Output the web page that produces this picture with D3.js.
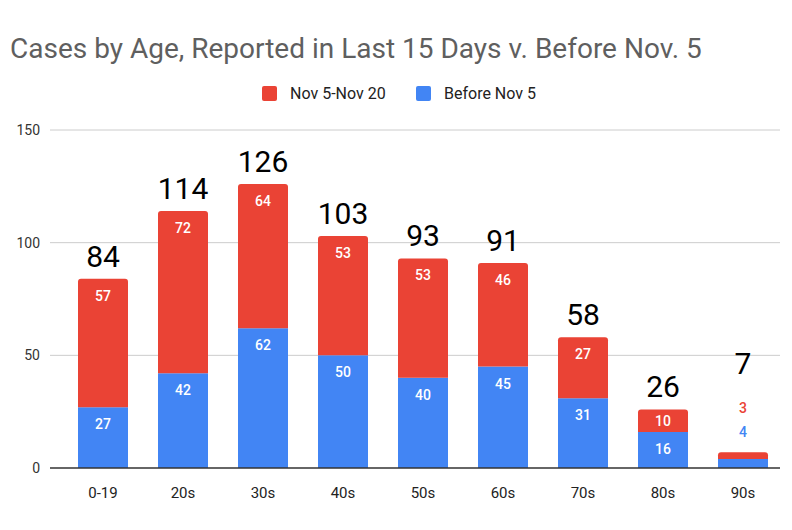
<!DOCTYPE html>
<html>
<head>
<meta charset="utf-8">
<script src="https://cdn.jsdelivr.net/npm/d3@7"></script>
<style>
  body { margin: 0; background: #fff; }
  text { font-family: Roboto, "Liberation Sans", Arial, sans-serif; }
</style>
</head>
<body>
<svg id="chart" width="792" height="530"></svg>
<script>
const ages = ["0-19", "20s", "30s", "40s", "50s", "60s", "70s", "80s", "90s"];
const recent = [57, 72, 64, 53, 53, 46, 27, 10, 3];   // Nov 5-Nov 20
const before = [27, 42, 62, 50, 40, 45, 31, 16, 4];   // Before Nov 5
const yTicks = [0, 50, 100, 150];

const RED = "#ea4335";
const BLUE = "#4285f4";

const svg = d3.select("#chart");
const width = +svg.attr("width");
const height = +svg.attr("height");

// title
svg.append("text")
  .attr("x", 10)
  .attr("y", 58)
  .attr("font-family", "'Liberation Sans', Arial, sans-serif")
  .attr("font-size", 28)
  .attr("fill", "#5f5f5f")
  .text("Cases by Age, Reported in Last 15 Days v. Before Nov. 5");

// legend
const legend = [
  { label: "Nov 5-Nov 20", color: RED, x: 262 },
  { label: "Before Nov 5", color: BLUE, x: 416 }
];
const lg = svg.append("g").attr("class", "legend");
legend.forEach(d => {
  lg.append("rect")
    .attr("x", d.x).attr("y", 86)
    .attr("width", 15).attr("height", 15)
    .attr("rx", 2)
    .attr("fill", d.color);
  lg.append("text")
    .attr("x", d.x + 28).attr("y", 99)
    .attr("font-family", "'Liberation Sans', Arial, sans-serif")
    .attr("font-size", 16)
    .attr("fill", "#222")
    .text(d.label);
});

// scales
const x = d3.scaleBand()
  .domain(ages)
  .range([63, 783])
  .paddingInner(0.375)
  .paddingOuter(0.1875);

const y = d3.scaleLinear()
  .domain([0, 150])
  .range([468, 130]);

// gridlines
svg.append("g")
  .selectAll("line")
  .data(yTicks.filter(t => t > 0))
  .enter()
  .append("line")
  .attr("x1", 50).attr("x2", 780)
  .attr("y1", d => y(d)).attr("y2", d => y(d))
  .attr("stroke", "#cccccc");

// y axis labels
const yAxis = svg.append("g")
  .attr("transform", "translate(40,0)")
  .call(d3.axisLeft(y).tickValues(yTicks).tickSize(0).tickPadding(0));
yAxis.select(".domain").remove();
yAxis.selectAll("text")
  .attr("font-family", "Roboto, Arial, sans-serif")
  .attr("font-size", 14)
  .attr("fill", "#333");

// stacked data
const rows = ages.map((a, i) => ({ age: a, before: before[i], recent: recent[i] }));
const stack = d3.stack().keys(["before", "recent"]);
const series = stack(rows);

function roundedTop(x0, y0, w, h, r) {
  r = Math.min(r, h, w / 2);
  return `M${x0},${y0 + h}V${y0 + r}Q${x0},${y0} ${x0 + r},${y0}` +
    `H${x0 + w - r}Q${x0 + w},${y0} ${x0 + w},${y0 + r}V${y0 + h}Z`;
}

const colors = { before: BLUE, recent: RED };

series.forEach(s => {
  svg.append("g")
    .selectAll("path")
    .data(s)
    .enter()
    .append("path")
    .attr("fill", colors[s.key])
    .attr("d", d => {
      const x0 = x(d.data.age);
      const y0 = y(d[1]);
      const h = y(d[0]) - y(d[1]);
      return s.key === "recent"
        ? roundedTop(x0, y0, x.bandwidth(), h, 3)
        : `M${x0},${y0}h${x.bandwidth()}v${h}h${-x.bandwidth()}Z`;
    });
});

// segment labels
series.forEach(s => {
  svg.append("g")
    .selectAll("text")
    .data(s)
    .enter()
    .append("text")
    .attr("x", d => x(d.data.age) + x.bandwidth() / 2)
    .attr("y", d => {
      const top = y(d[1]);
      const h = y(d[0]) - top;
      const total = d.data.before + d.data.recent;
      if (total < 15) {
        // too thin: stack the labels above the bar
        return y(total) - (s.key === "before" ? 15 : 39);
      }
      return top + Math.min(17, h / 2) + 5;
    })
    .attr("text-anchor", "middle")
    .attr("font-size", 14)
    .attr("font-weight", 500)
    .attr("fill", d => (d.data.before + d.data.recent < 15 ? colors[s.key] : "#fff"))
    .text(d => d[1] - d[0]);
});

// totals
svg.append("g")
  .selectAll("text")
  .data(rows)
  .enter()
  .append("text")
  .attr("x", d => x(d.age) + x.bandwidth() / 2)
  .attr("y", d => {
    const total = d.before + d.recent;
    return y(total) - (total < 15 ? 78 : 12);
  })
  .attr("text-anchor", "middle")
  .attr("font-family", "'Open Sans', 'Noto Sans', sans-serif")
  .attr("font-size", 30)
  .attr("fill", "#000")
  .text(d => d.before + d.recent);

// baseline
svg.append("line")
  .attr("x1", 50).attr("x2", 780)
  .attr("y1", y(0)).attr("y2", y(0))
  .attr("stroke", "#333")
  .attr("stroke-width", 1.5);

// x axis labels
svg.append("g")
  .selectAll("text")
  .data(ages)
  .enter()
  .append("text")
  .attr("x", d => x(d) + x.bandwidth() / 2)
  .attr("y", 498)
  .attr("text-anchor", "middle")
  .attr("font-size", 15)
  .attr("fill", "#222")
  .text(d => d);
</script>
</body>
</html>
